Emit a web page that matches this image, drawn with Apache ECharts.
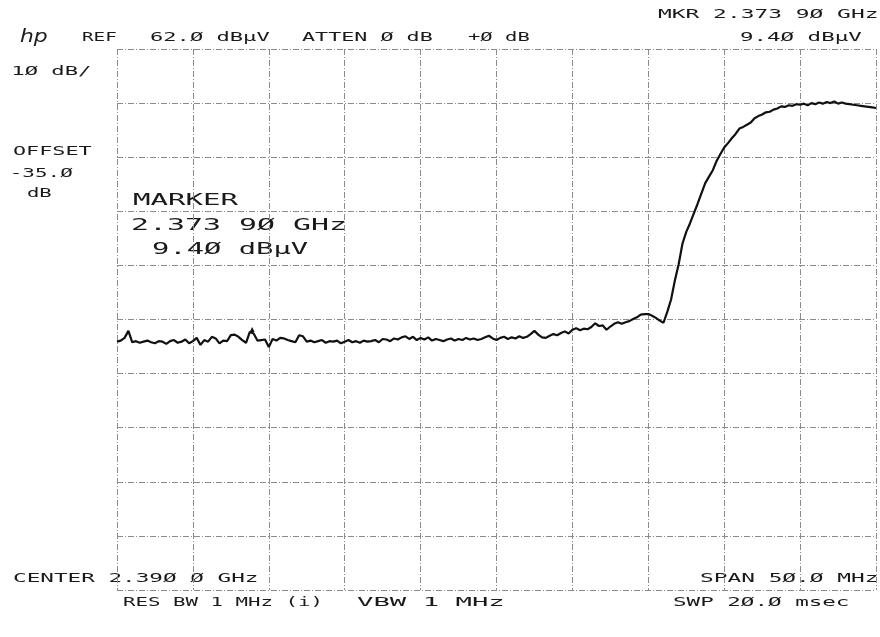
<!DOCTYPE html>
<html>
<head>
<meta charset="utf-8">
<script src="https://cdn.jsdelivr.net/npm/echarts@6/dist/echarts.min.js"></script>
<style>
html,body{margin:0;padding:0;background:#fff;}
#main{width:880px;height:637px;}
</style>
</head>
<body>
<div id="main"></div>
<script>
// ---- Data ----
const sweepStartMHz = 2365;     // CENTER 2.390 GHz, SPAN 50 MHz
const sweepStopMHz = 2415;
const sweepStepMHz = 0.25;
const refLevel = 62;            // REF 62.0 dBµV
const dbPerDiv = 10;            // 10 dB/div
const xTickMHz = 5;
// trace level (dBµV), one value per sweep point from 2365 MHz to 2415 MHz
const traceLevels = [
  7.9, 8.1, 8.6, 9.9,
  7.8, 8.0, 7.7, 7.9,
  8.1, 7.8, 7.6, 8.0,
  7.9, 7.5, 8.0, 8.2,
  7.7, 7.9, 8.3, 7.6,
  8.0, 8.6, 7.3, 8.2,
  7.9, 8.8, 8.5, 7.6,
  8.1, 8.0, 9.1, 9.2,
  8.8, 8.2, 7.7, 9.7,
  9.4, 8.1, 8.2, 8.3,
  6.9, 8.4, 8.1, 8.6,
  8.5, 8.2, 8.0, 7.8,
  9.1, 8.9, 7.9, 8.1,
  7.8, 8.0, 8.2, 7.7,
  8.0, 7.9, 8.1, 7.6,
  7.9, 8.2, 7.8, 8.0,
  7.7, 8.1, 7.9, 8.0,
  8.2, 7.8, 8.4, 8.3,
  8.0, 8.5, 8.3, 8.7,
  8.9, 8.4, 8.8, 8.2,
  8.6, 8.3, 8.7, 8.1,
  8.4, 8.2, 8.0, 8.3,
  8.5, 8.1, 8.4, 8.2,
  8.6, 8.3, 8.5, 8.2,
  8.4, 8.7, 9.0, 8.5,
  8.2, 8.6, 8.8, 8.4,
  8.7, 8.5, 8.9, 8.6,
  8.8, 9.3, 9.9, 9.2,
  8.7, 8.6, 9.0, 9.3,
  9.1, 9.5, 9.8, 9.4,
  10.1, 10.4, 10.0, 10.3,
  10.2, 10.6, 11.3, 10.8,
  10.9, 10.1, 10.7, 11.2,
  11.5, 11.2, 11.5, 11.7,
  12.1, 12.4, 12.9, 13.0,
  13.0, 12.7, 12.3, 11.8,
  11.4, 13.4, 15.7, 19.2,
  22.2, 26.0, 28.2, 29.8,
  31.6, 33.4, 35.3, 37.2,
  38.4, 39.6, 41.3, 42.6,
  43.8, 44.6, 45.5, 46.3,
  47.3, 47.6, 48.0, 48.4,
  49.2, 49.6, 49.9, 50.3,
  50.4, 50.8, 51.0, 51.4,
  51.3, 51.6, 51.5, 51.8,
  51.7, 51.9, 51.6, 52.0,
  51.8, 52.1, 51.9, 52.2,
  52.0, 52.3, 51.9, 52.1,
  51.9, 51.8, 51.7, 51.6,
  51.5, 51.4, 51.3, 51.2,
  51.1
];
const markerFreqMHz = 2373.9;
const markerLevel = 9.4;

// annotation texts
const annotations = [
  // [text, left, right, centerY, fontSize]
  ['MKR 2.373 9Ø GHz', 658, 877, 15, 13],
  ['REF', 82, 117, 38, 13],
  ['62.Ø dBµV', 150, 270, 38, 13],
  ['ATTEN Ø dB', 302, 433, 38, 13],
  ['+Ø dB', 468, 530, 38, 13],
  ['9.4Ø dBµV', 740, 862, 38, 13],
  ['1Ø dB/', 13, 90, 72, 13],
  ['OFFSET', 13, 92, 152, 13],
  ['-35.Ø', 13, 73, 174, 13],
  ['dB', 27, 52, 194, 13],
  ['MARKER', 133, 240, 201, 15],
  ['2.373 9Ø GHz', 133, 345, 226, 15],
  ['9.4Ø dBµV', 152, 308, 250, 15],
  ['CENTER 2.39Ø Ø GHz', 13, 257, 579, 13],
  ['RES BW 1 MHz (i)', 123, 320, 603, 13],
  ['VBW 1 MHz', 357, 503, 603, 13],
  ['SPAN 5Ø.Ø MHz', 700, 877, 579, 13],
  ['SWP 2Ø.Ø msec', 673, 848, 603, 13]
];

// ---- Build ----
const traceData = traceLevels.map((v, i) => [sweepStartMHz + i * sweepStepMHz, v]);
const nDiv = 10;
const yMin = refLevel - nDiv * dbPerDiv;

const FONT_FAMILY = '"DejaVu Sans Mono", monospace';
const measCtx = document.createElement('canvas').getContext('2d');
function textEl(t, left, right, cy, size, opts) {
  opts = opts || {};
  const font = (opts.italic ? 'italic ' : '') + size + 'px ' + (opts.family || FONT_FAMILY);
  measCtx.font = font;
  const m = measCtx.measureText(t);
  const bl = m.actualBoundingBoxLeft || 0;
  const br = m.actualBoundingBoxRight || m.width;
  const s = (right - left) / (bl + br);
  return {
    type: 'text',
    x: left + s * bl,
    y: cy,
    scaleX: s,
    silent: true,
    style: {
      text: t,
      font: font,
      fill: '#1a1a1a',
      align: 'left',
      verticalAlign: 'middle',
      textAlign: 'left',
      textVerticalAlign: 'middle'
    }
  };
}

const graphics = annotations.map(a => textEl(a[0], a[1], a[2], a[3], a[4]));
graphics.push(textEl('hp', 20, 48, 38, 17, {italic: true, family: '"DejaVu Sans", sans-serif'}));

const gridLine = {show: true, lineStyle: {color: '#8c8c8c', width: 1, type: [6, 2, 1, 2]}};

const chart = echarts.init(document.getElementById('main'), null, {renderer: 'canvas'});
chart.setOption({
  animation: false,
  backgroundColor: '#ffffff',
  grid: {left: 117, right: 4, top: 49, bottom: 47, containLabel: false},
  xAxis: {
    type: 'value',
    min: sweepStartMHz,
    max: sweepStopMHz,
    interval: xTickMHz,
    axisLabel: {show: false},
    axisTick: {show: false},
    axisLine: {show: false},
    splitLine: gridLine
  },
  yAxis: [
    {
      type: 'value',
      min: yMin,
      max: refLevel,
      axisLabel: {show: false},
      axisTick: {show: false},
      axisLine: {show: false},
      splitLine: {show: false}
    },
    {
      type: 'value',
      min: 0,
      max: nDiv,
      interval: 1,
      position: 'left',
      axisLabel: {show: false},
      axisTick: {show: false},
      axisLine: {show: false},
      splitLine: gridLine
    }
  ],
  series: [
    {
      type: 'line',
      yAxisIndex: 0,
      data: traceData,
      showSymbol: false,
      symbol: 'none',
      smooth: false,
      lineStyle: {color: '#111', width: 2.2},
      markPoint: {
        silent: true,
        symbol: 'triangle',
        symbolSize: [5, 5],
        symbolOffset: [0, -4],
        itemStyle: {color: '#111'},
        label: {show: false},
        data: [{coord: [markerFreqMHz, markerLevel]}]
      }
    }
  ],
  graphic: graphics
});
</script>
</body>
</html>
